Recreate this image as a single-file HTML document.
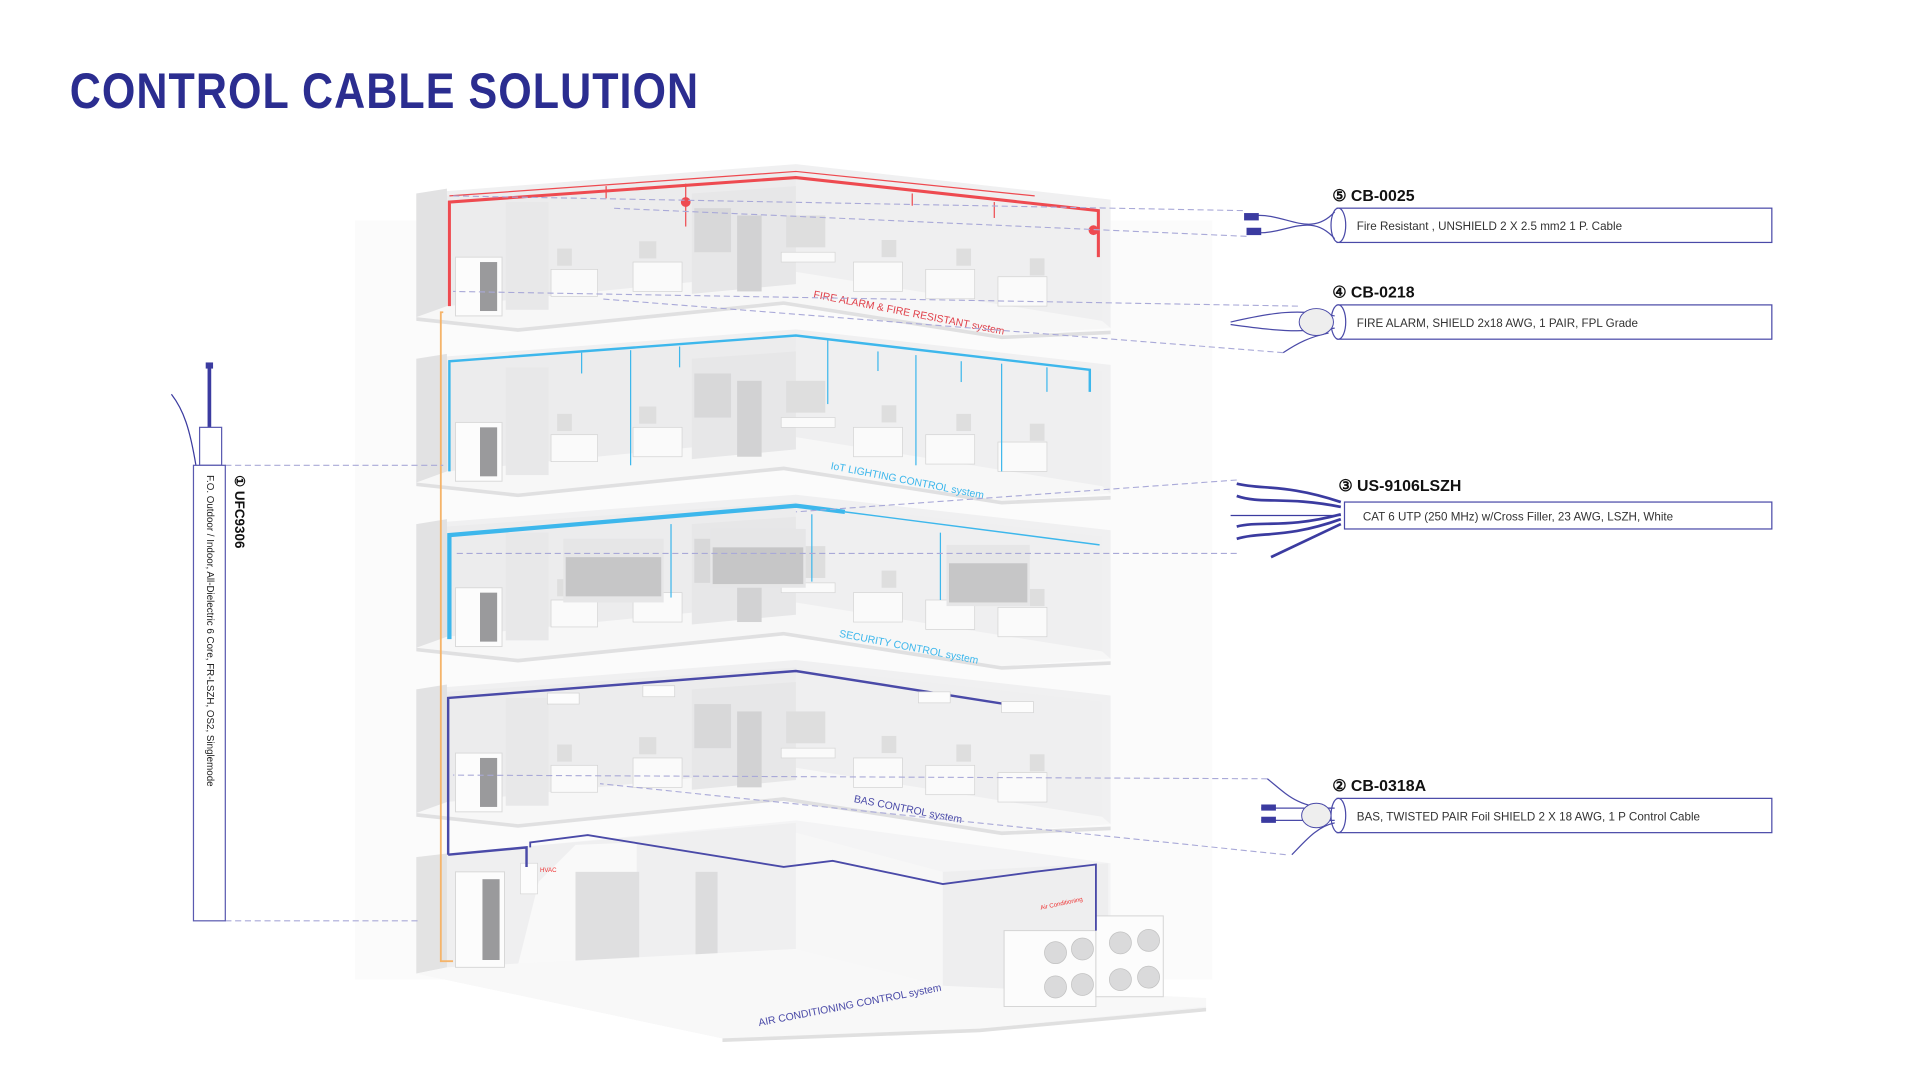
<!DOCTYPE html>
<html><head><meta charset="utf-8"><style>
html,body{margin:0;padding:0;background:#fff;width:1920px;height:1080px;overflow:hidden}
svg{display:block}
text{font-family:"Liberation Sans",sans-serif}
</style></head><body>
<svg width="1920" height="1080" viewBox="0 0 1568 882" xmlns="http://www.w3.org/2000/svg">
<defs>
<g id="fl">
  <polygon points="340,158 650,134 907,163 907,268 650,230 365,250 340,259" fill="#f0f0f1"/>
  <polygon points="365,160 650,140 650,230 365,250" fill="#ececed"/>
  <polygon points="650,140 900,168 900,262 650,230" fill="#efeff0"/>
  <polygon points="340,158 365,154 365,256 340,259" fill="#e2e2e3"/>
  <polygon points="365,250 650,222 900,262 907,268 818,274 640,246 423,268 340,259" fill="#f7f7f7"/>
  <polygon points="340,259 423,268 640,246 818,274 907,270 907,273 818,277 640,249 423,271 340,262" fill="#e0e0e1"/>
  <rect x="413" y="165" width="35" height="88" fill="#e8e8e9"/>
  <polygon points="565,158 650,152 650,232 565,240" fill="#e7e7e8"/>
  <rect x="567" y="170" width="30" height="36" fill="#d8d8d9"/>
  <rect x="602" y="176" width="20" height="62" fill="#d2d2d3"/>
  <rect x="642" y="176" width="32" height="26" fill="#dedede"/>
  <rect x="638" y="206" width="44" height="8" fill="#fafafa" stroke="#d6d6d6" stroke-width=".6"/>
  <rect x="372" y="210" width="38" height="48" fill="#fcfcfc" stroke="#dadada" stroke-width=".8"/>
  <rect x="392" y="214" width="14" height="40" fill="#9a9a9c"/>
  <g fill="#fafafa" stroke="#d4d4d4" stroke-width=".6">
   <rect x="450" y="220" width="38" height="22"/><rect x="517" y="214" width="40" height="24"/>
   <rect x="697" y="214" width="40" height="24"/><rect x="756" y="220" width="40" height="24"/><rect x="815" y="226" width="40" height="24"/>
  </g>
  <g fill="#dedede">
   <rect x="455" y="203" width="12" height="14"/><rect x="522" y="197" width="14" height="14"/>
   <rect x="720" y="196" width="12" height="14"/><rect x="781" y="203" width="12" height="14"/><rect x="841" y="211" width="12" height="14"/>
  </g>
</g>
</defs>

<text x="57" y="88" font-size="41" font-weight="bold" fill="#2b2d90" textLength="514" lengthAdjust="spacingAndGlyphs" letter-spacing="1">CONTROL CABLE  SOLUTION</text>

<rect x="290" y="180" width="700" height="620" fill="#fbfbfb"/>

<use href="#fl"/>
<use href="#fl" transform="translate(0,135)"/>
<use href="#fl" transform="translate(0,270)"/>
<use href="#fl" transform="translate(0,405)"/>

<polygon points="340,700 650,670 907,705 907,815 985,815 985,823 800,840 590,848 340,795" fill="#f4f4f5"/>
<polygon points="340,700 365,697 365,790 340,795" fill="#e3e3e3"/>
<polygon points="365,697 650,672 650,775 365,790" fill="#efeff0"/>
<polygon points="440,720 470,690 520,688 520,795 420,800" fill="#f9f9f9"/>
<rect x="470" y="712" width="52" height="82" fill="#dfdfe0"/>
<rect x="568" y="712" width="18" height="75" fill="#dcdcdd"/>
<polygon points="650,680 770,712 770,805 650,775" fill="#f7f7f7"/>
<polygon points="770,712 905,705 905,815 770,805" fill="#eeeeef"/>
<polygon points="365,790 650,775 770,805 985,815 985,822 800,840 590,848 340,795" fill="#f8f8f8"/>
<polygon points="590,848 800,840 985,823 985,826 800,843 590,851" fill="#e0e0e0"/>
<rect x="372" y="712" width="40" height="78" fill="#fcfcfc" stroke="#d8d8d8" stroke-width=".8"/>
<rect x="394" y="718" width="14" height="66" fill="#9a9a9c"/>
<rect x="425" y="705" width="14" height="25" fill="#fcfcfc" stroke="#d8d8d8" stroke-width=".6"/>
<text x="441" y="712" font-size="5" fill="#e33">HVAC</text>
<g fill="#fcfcfc" stroke="#d4d4d4" stroke-width=".8">
 <rect x="820" y="760" width="75" height="62"/><rect x="895" y="748" width="55" height="66"/>
</g>
<g fill="#dadadb" stroke="#c2c2c2" stroke-width=".6">
 <circle cx="862" cy="778" r="9"/><circle cx="884" cy="775" r="9"/><circle cx="862" cy="806" r="9"/><circle cx="884" cy="804" r="9"/>
 <circle cx="915" cy="770" r="9"/><circle cx="938" cy="768" r="9"/><circle cx="915" cy="800" r="9"/><circle cx="938" cy="798" r="9"/>
</g>
<text x="850" y="743" font-size="5" fill="#e33" transform="rotate(-12 850 743)">Air Conditioning</text>

<polyline points="362,255 360,255 360,785 370,785" fill="none" stroke="#f5b46a" stroke-width="1.5"/>

<g fill="none" stroke="#ee4a50">
 <polyline points="367,250 367,165 650,145 897,172 897,210" stroke-width="2.5"/>
 <polyline points="367,160 650,140 845,160" stroke-width="1"/>
 <line x1="495" y1="152" x2="495" y2="162"/><line x1="560" y1="150" x2="560" y2="185"/>
 <line x1="745" y1="158" x2="745" y2="168"/><line x1="812" y1="165" x2="812" y2="178"/>
</g>
<circle cx="560" cy="165" r="4" fill="#ee4a50"/><circle cx="893" cy="188" r="4" fill="#ee4a50"/>
<text x="664" y="243" font-size="8.5" fill="#e0404a" transform="rotate(11 664 243)">FIRE ALARM &amp; FIRE RESISTANT system</text>

<g fill="none" stroke="#3db7ec">
 <polyline points="367,385 367,295 650,274 890,302 890,320" stroke-width="2"/>
 <line x1="475" y1="288" x2="475" y2="305"/><line x1="555" y1="283" x2="555" y2="300"/>
 <line x1="515" y1="286" x2="515" y2="380"/><line x1="717" y1="287" x2="717" y2="303"/>
 <line x1="748" y1="290" x2="748" y2="380"/><line x1="785" y1="295" x2="785" y2="312"/><line x1="855" y1="300" x2="855" y2="320"/>
 <line x1="818" y1="297" x2="818" y2="385"/><line x1="676" y1="278" x2="676" y2="330"/>
</g>
<text x="678" y="383" font-size="8.5" fill="#3db7ec" transform="rotate(11 678 383)">IoT LIGHTING CONTROL system</text>

<g fill="none" stroke="#3db7ec">
 <polyline points="367,522 367,437 650,413 690,418" stroke-width="3.5"/>
 <polyline points="690,418 898,445" stroke-width="1.2"/>
 <line x1="548" y1="428" x2="548" y2="488"/><line x1="663" y1="420" x2="663" y2="475"/><line x1="768" y1="435" x2="768" y2="490"/>
</g>
<g fill="#e6e6e7"><rect x="460" y="440" width="82" height="52"/><rect x="580" y="432" width="78" height="48"/><rect x="773" y="445" width="68" height="50"/></g>
<g fill="#c6c6c7"><rect x="462" y="455" width="78" height="32"/><rect x="582" y="447" width="74" height="30"/><rect x="775" y="460" width="64" height="32"/></g>
<text x="685" y="520" font-size="8.5" fill="#3db7ec" transform="rotate(11 685 520)">SECURITY CONTROL system</text>

<g fill="none" stroke="#4a4aa8">
 <polyline points="366,698 366,570 650,548 840,578" stroke-width="2"/>
 <polyline points="366,698 430,692 430,708" stroke-width="2"/>
 <polyline points="433,692 433,688 480,682 640,708 680,703 770,722 845,712 895,706 895,760" stroke-width="1.5"/>
</g>
<g fill="#fcfcfc" stroke="#d4d4d4" stroke-width=".6">
 <rect x="447" y="566" width="26" height="9"/><rect x="525" y="560" width="26" height="9"/><rect x="750" y="565" width="26" height="9"/><rect x="818" y="573" width="26" height="9"/>
</g>
<text x="697" y="655" font-size="8.5" fill="#4a4aa8" transform="rotate(11 697 655)">BAS CONTROL system</text>
<text x="620" y="838" font-size="8.5" fill="#4a4aa8" transform="rotate(-11 620 838)">AIR CONDITIONING CONTROL system</text>

<g fill="none" stroke="#a9a9d8" stroke-width=".9" stroke-dasharray="5,3">
 <line x1="1015" y1="172" x2="370" y2="160"/><line x1="1018" y1="193" x2="500" y2="170"/>
 <line x1="1060" y1="250" x2="370" y2="238"/><line x1="1048" y1="288" x2="490" y2="244"/>
 <line x1="1010" y1="392" x2="650" y2="418"/><line x1="1010" y1="452" x2="370" y2="452"/>
 <line x1="1035" y1="636" x2="370" y2="633"/><line x1="1050" y1="698" x2="490" y2="640"/>
 <line x1="184" y1="380" x2="362" y2="380"/><line x1="184" y1="752" x2="342" y2="752"/>
</g>

<path d="M140,322 C150,335 155,350 160,380" fill="none" stroke="#3b3ba0" stroke-width="1"/>
<line x1="171" y1="298" x2="171" y2="349" stroke="#3b3ba0" stroke-width="3"/>
<rect x="168" y="296" width="6" height="5" fill="#3b3ba0"/>
<rect x="163" y="349" width="18" height="31" fill="#fff" stroke="#5a5ab0" stroke-width="1"/>
<rect x="158" y="380" width="26" height="372" fill="#fff" stroke="#5a5ab0" stroke-width="1"/>
<text transform="translate(169,388) rotate(90)" font-size="8" fill="#222">F.O. Outdoor / Indoor, All-Dielectric 6 Core, FR-LSZH, OS2, Singlemode</text>
<text transform="translate(192,388) rotate(90)" font-size="11" font-weight="bold" fill="#111">① UFC9306</text>

<g fill="#fff" stroke="#4a4aa8" stroke-width="1">
 <rect x="1092" y="170" width="355" height="28"/>
 <rect x="1092" y="249" width="355" height="28"/>
 <rect x="1098" y="410" width="349" height="22"/>
 <rect x="1092" y="652" width="355" height="28"/>
 <ellipse cx="1093" cy="184" rx="6" ry="14"/>
 <ellipse cx="1093" cy="263" rx="6" ry="14"/>
 <ellipse cx="1093" cy="666" rx="6" ry="14"/>
</g>
<g font-size="13" font-weight="bold" fill="#111">
 <text x="1088" y="164">⑤ CB-0025</text>
 <text x="1088" y="243">④ CB-0218</text>
 <text x="1093" y="401">③ US-9106LSZH</text>
 <text x="1088" y="646">② CB-0318A</text>
</g>
<g font-size="9.5" fill="#333">
 <text x="1108" y="188">Fire Resistant , UNSHIELD 2 X 2.5 mm2 1 P. Cable</text>
 <text x="1108" y="267">FIRE ALARM, SHIELD 2x18 AWG, 1 PAIR, FPL Grade</text>
 <text x="1113" y="425">CAT 6 UTP (250 MHz) w/Cross Filler, 23 AWG, LSZH, White</text>
 <text x="1108" y="670">BAS, TWISTED PAIR Foil SHIELD 2 X 18 AWG, 1 P Control Cable</text>
</g>
<g fill="none" stroke="#4a4aa8" stroke-width="1">
 <path d="M1025,176 C1050,174 1070,195 1090,173"/><path d="M1025,190 C1050,192 1070,172 1090,195"/>
 <path d="M1005,263 C1040,255 1060,252 1090,258"/><path d="M1005,265 C1040,270 1060,272 1090,268"/>
 <path d="M1048,288 C1060,280 1070,275 1085,272"/>
 <path d="M1035,636 C1050,648 1060,660 1088,660"/><path d="M1055,698 C1065,688 1075,675 1090,672"/>
 <path d="M1030,660 L1090,660"/><path d="M1030,670 L1090,670"/>
</g>
<ellipse cx="1075" cy="263" rx="14" ry="11" fill="#eeeeee" stroke="#4a4aa8" stroke-width=".8"/>
<ellipse cx="1075" cy="666" rx="12" ry="10" fill="#eeeeee" stroke="#4a4aa8" stroke-width=".8"/>
<g fill="#3b3ba0"><rect x="1016" y="174" width="12" height="6"/><rect x="1018" y="186" width="12" height="6"/>
<rect x="1030" y="657" width="12" height="5"/><rect x="1030" y="667" width="12" height="5"/></g>
<g fill="none" stroke="#3b3ba0" stroke-width="2.2">
 <path d="M1010,395 C1030,400 1050,395 1095,410"/><path d="M1010,405 C1030,412 1050,405 1095,414"/>
 <path d="M1010,430 C1030,425 1050,432 1095,420"/><path d="M1010,440 C1030,434 1050,440 1095,424"/>
 <path d="M1038,455 L1095,428"/>
</g>
<line x1="1005" y1="421" x2="1095" y2="421" stroke="#3b3ba0" stroke-width="1"/>
</svg>
</body></html>
